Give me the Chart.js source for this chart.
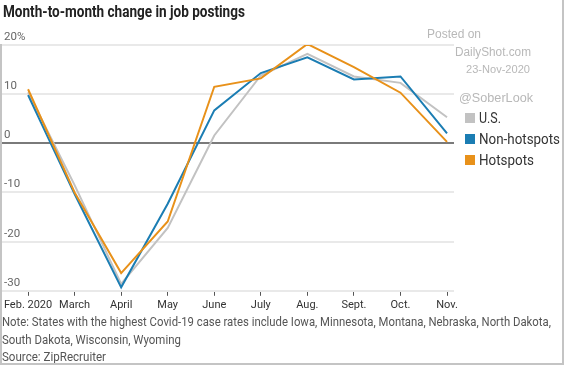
<!DOCTYPE html>
<html>
<head>
<meta charset="utf-8">
<script src="https://cdn.jsdelivr.net/npm/chart.js@4"></script>
<style>
  body { margin: 0; background: #fff; }
  #wrap { position: relative; width: 564px; height: 365px; background: #fff; overflow: hidden;
          font-family: "Roboto", "Liberation Sans", sans-serif; }
  #chartBox { position: absolute; left: 0; top: 0; width: 564px; height: 315px; }
  .txt { position: absolute; white-space: nowrap; transform-origin: 0 50%; }
  #title { left: 3px; top: 2px; font-size: 16px; font-weight: bold; color: #222; }
  .wm { color: #b8b8b8; font-family: "Liberation Sans", Arial, sans-serif; font-size: 12px; }
  #legend { position: absolute; left: 465px; top: 107px; }
  .lg { height: 21px; font-size: 15px; color: #333; white-space: nowrap; display: flex; align-items: center; }
  .lg span.box { width: 10px; height: 10px; margin-right: 4px; display: inline-block; flex: none; }
  .lg span.lab { display: inline-block; transform-origin: 0 50%; }
  .note { left: 2px; font-size: 13px; color: #555; }
  #bR { position: absolute; right: 0; top: 0; width: 2px; height: 365px; background: #c4c4c4; }
  #bB { position: absolute; left: 0; bottom: 0; width: 564px; height: 2px; background: #c4c4c4; }
  #bL { position: absolute; left: 0; top: 44px; width: 2px; height: 321px; background: #c4c4c4; }
</style>
</head>
<body>
<div id="wrap">
  <div id="chartBox"><canvas id="jobChart"></canvas></div>
  <div class="txt" id="title" data-w="242">Month-to-month change in job postings</div>
  <div class="txt wm" style="left:427px; top:27px;" data-w="54">Posted on</div>
  <div class="txt wm" style="left:455px; top:45px;" data-w="76">DailyShot.com</div>
  <div class="txt wm" style="left:466px; top:63px; font-size:11px;" data-w="64">23-Nov-2020</div>
  <div class="txt wm" style="left:459px; top:90px; font-size:13px;" data-w="74">@SoberLook</div>
  <div id="legend"></div>
  <div class="txt note" style="top:314px;" data-w="549">Note: States with the highest Covid-19 case rates include Iowa, Minnesota, Montana, Nebraska, North Dakota,</div>
  <div class="txt note" style="top:332px;" data-w="179">South Dakota, Wisconsin, Wyoming</div>
  <div class="txt note" style="top:349px;" data-w="104">Source: ZipRecruiter</div>
  <div id="bR"></div><div id="bB"></div><div id="bL"></div>
</div>
<script>
const months = ["Feb. 2020", "March", "April", "May", "June", "July", "Aug.", "Sept.", "Oct.", "Nov."];
const usValues = [10.4, -8.5, -28.6, -17.2, 1.6, 13.8, 18.2, 13.6, 12.3, 5.3];
const nonHotspots = [9.8, -10.3, -29.3, -12.3, 6.7, 14.3, 17.5, 13.0, 13.6, 2.0];
const hotspots = [11.0, -10.0, -26.4, -15.9, 11.5, 13.2, 20.2, 15.5, 10.3, 0.3];
const yTicks = [20, 10, 0, -10, -20, -30];

const seriesNames = ["U.S.", "Non-hotspots", "Hotspots"];
const seriesColors = ["#c2c2c2", "#1b7db3", "#e8911a"];
const seriesValues = [usValues, nonHotspots, hotspots];
const legendWidths = [22, 81, 55];

const datasets = seriesNames.map((name, i) => ({
  label: name,
  data: seriesValues[i].map((v, j) => ({ x: j, y: v })),
  borderColor: seriesColors[i],
  backgroundColor: seriesColors[i],
  borderWidth: 2,
  pointRadius: 0,
  tension: 0,
  // U.S. underneath
  order: i === 0 ? 3 : (i === 1 ? 2 : 1),
}));

// legend in html
const legendBox = document.getElementById("legend");
seriesNames.forEach((name, i) => {
  const row = document.createElement("div");
  row.className = "lg";
  row.innerHTML = `<span class="box" style="background:${seriesColors[i]}"></span><span class="lab" data-w="${legendWidths[i]}">${name}</span>`;
  legendBox.appendChild(row);
});

// squeeze text to the condensed widths of the original
document.querySelectorAll("[data-w]").forEach((el) => {
  const w = el.getBoundingClientRect().width;
  el.style.transform = `scaleX(${(+el.dataset.w / w).toFixed(3)})`;
});

const tickFont = { family: "Roboto, Liberation Sans, sans-serif", size: 11 };

new Chart(document.getElementById("jobChart"), {
  type: "line",
  data: { datasets: datasets },
  options: {
    responsive: true,
    maintainAspectRatio: false,
    animation: false,
    layout: { padding: { left: 0, right: 110, top: 45, bottom: 0 } },
    plugins: { legend: { display: false }, tooltip: { enabled: false } },
    scales: {
      x: {
        type: "linear",
        min: -0.56,
        max: 9.15,
        afterBuildTicks: (axis) => { axis.ticks = months.map((m, i) => ({ value: i })); },
        grid: { drawOnChartArea: false, drawTicks: true, tickLength: 5, color: "#555", lineWidth: 1 },
        border: { display: false },
        ticks: {
          autoSkip: false,
          maxRotation: 0,
          padding: 3,
          color: "#333",
          font: tickFont,
          callback: (v) => months[v],
        },
      },
      y: {
        min: -30,
        max: 20,
        afterBuildTicks: (axis) => { axis.ticks = yTicks.map((v) => ({ value: v })); },
        afterFit: (axis) => { axis.width = 2; },
        grid: {
          drawTicks: false,
          color: (ctx) => (ctx.tick && ctx.tick.value === 0 ? "#7a7a7a" : "#e9e9e9"),
          lineWidth: 2,
        },
        border: { display: false },
        ticks: {
          mirror: true,
          labelOffset: -8,
          padding: 2,
          color: "#666",
          font: { family: "Roboto, Liberation Sans, sans-serif", size: 11.5 },
          callback: (v) => (v === 20 ? "20%" : String(v)),
        },
      },
    },
  },
});
</script>
</body>
</html>
